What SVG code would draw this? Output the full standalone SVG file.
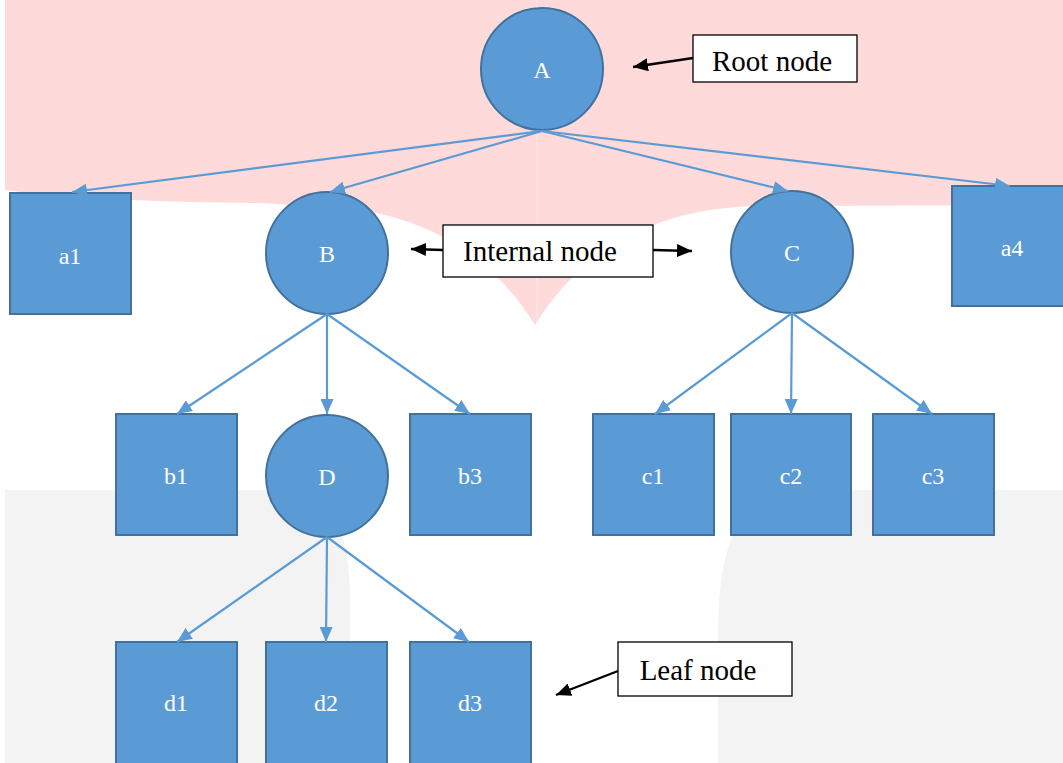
<svg xmlns="http://www.w3.org/2000/svg" width="1063" height="763" viewBox="0 0 1063 763">
  <style>
    .node { fill: #5B9BD5; stroke: #41719C; stroke-width: 2; }
    .lbl { font-family: 'Liberation Serif', 'DejaVu Serif', serif; font-size: 24px; fill: #FFFFFF; text-anchor: middle; }
    .note-box { fill: #FFFFFF; stroke: #000000; stroke-width: 1.3; }
    .note { font-family: 'Liberation Serif', 'DejaVu Serif', serif; font-size: 29px; fill: #000000; text-anchor: middle; }
    .edge { stroke: #5B9BD5; stroke-width: 2.2; fill: none; marker-end: url(#blueHead); }
    .pointer { stroke: #000000; stroke-width: 2.4; fill: none; marker-end: url(#blackHead); }
  </style>
  <defs>
    <marker id="blueHead" markerUnits="userSpaceOnUse" markerWidth="15" markerHeight="13" refX="15" refY="6.5" orient="auto">
      <path d="M0,0 L15,6.5 L0,13 Z" fill="#5B9BD5"/>
    </marker>
    <marker id="blackHead" markerUnits="userSpaceOnUse" markerWidth="15" markerHeight="13" refX="15" refY="6.5" orient="auto">
      <path d="M0,0 L15,6.5 L0,13 Z" fill="#000000"/>
    </marker>
  </defs>

  <!-- backdrop -->
  <rect x="0" y="0" width="1063" height="763" fill="#FFFFFF"/>
  <path d="M5,0 H1063 V205 L760,206 C700,207 600,220 535,325 C470,220 370,207 310,206 L260,203 Q100,202 5,190 Z" fill="#FFDADA"/>
  <line x1="537" y1="0" x2="537" y2="322" stroke="#FFE6E6" stroke-width="1.5"/>
  <path d="M5,490 H290 C330,490 350,530 350,600 V763 H5 Z" fill="#F3F3F3"/>
  <path d="M718,763 V640 C718,555 730,505 790,490 H1063 V763 Z" fill="#F3F3F3"/>

  <!-- nodes -->
  <g id="node-A"><circle class="node" cx="542" cy="69" r="61"/><text class="lbl" x="542" y="78">A</text></g>
  <g id="node-B"><circle class="node" cx="327" cy="253" r="61"/><text class="lbl" x="327" y="262">B</text></g>
  <g id="node-C"><circle class="node" cx="792" cy="252" r="61"/><text class="lbl" x="792" y="261">C</text></g>
  <g id="node-D"><circle class="node" cx="327" cy="476" r="61"/><text class="lbl" x="327" y="485">D</text></g>

  <g id="node-a1"><rect class="node" x="10" y="193" width="121" height="121"/><text class="lbl" x="70" y="264">a1</text></g>
  <g id="node-a4"><rect class="node" x="952" y="186" width="121" height="120"/><text class="lbl" x="1012" y="256">a4</text></g>

  <g id="node-b1"><rect class="node" x="116" y="414" width="121" height="121"/><text class="lbl" x="176" y="484">b1</text></g>
  <g id="node-b3"><rect class="node" x="410" y="414" width="121" height="121"/><text class="lbl" x="470" y="484">b3</text></g>

  <g id="node-c1"><rect class="node" x="593" y="414" width="121" height="121"/><text class="lbl" x="653" y="484">c1</text></g>
  <g id="node-c2"><rect class="node" x="731" y="414" width="120" height="121"/><text class="lbl" x="791" y="484">c2</text></g>
  <g id="node-c3"><rect class="node" x="873" y="414" width="121" height="121"/><text class="lbl" x="933" y="484">c3</text></g>

  <g id="node-d1"><rect class="node" x="116" y="642" width="121" height="125"/><text class="lbl" x="176" y="711">d1</text></g>
  <g id="node-d2"><rect class="node" x="266" y="642" width="121" height="125"/><text class="lbl" x="326" y="711">d2</text></g>
  <g id="node-d3"><rect class="node" x="410" y="642" width="121" height="125"/><text class="lbl" x="470" y="711">d3</text></g>

  <!-- callouts -->
  <g id="note-root"><rect class="note-box" x="693" y="35" width="164" height="47"/><text class="note" x="772" y="71">Root node</text></g>
  <g id="note-internal"><rect class="note-box" x="443" y="225" width="210" height="52"/><text class="note" x="540" y="261">Internal node</text></g>
  <g id="note-leaf"><rect class="note-box" x="618" y="642" width="174" height="54"/><text class="note" x="698" y="680">Leaf node</text></g>

  <!-- connectors -->
  <g id="connectors">
    <line class="edge" x1="542" y1="131" x2="72" y2="192"/>
    <line class="edge" x1="542" y1="131" x2="330" y2="192"/>
    <line class="edge" x1="542" y1="131" x2="788" y2="191"/>
    <line class="edge" x1="542" y1="131" x2="1010" y2="186"/>
    <line class="edge" x1="327" y1="314" x2="177" y2="414"/>
    <line class="edge" x1="327" y1="314" x2="327" y2="414"/>
    <line class="edge" x1="327" y1="314" x2="470" y2="414"/>
    <line class="edge" x1="792" y1="313" x2="655" y2="414"/>
    <line class="edge" x1="792" y1="313" x2="791" y2="414"/>
    <line class="edge" x1="792" y1="313" x2="932" y2="414"/>
    <line class="edge" x1="327" y1="537" x2="177" y2="642"/>
    <line class="edge" x1="327" y1="537" x2="326" y2="642"/>
    <line class="edge" x1="327" y1="537" x2="469" y2="642"/>
    <line class="pointer" x1="693" y1="58" x2="633" y2="67"/>
    <line class="pointer" x1="443" y1="250" x2="411" y2="249"/>
    <line class="pointer" x1="653" y1="250" x2="692" y2="251"/>
    <line class="pointer" x1="618" y1="671" x2="556" y2="695"/>
  </g>
</svg>
